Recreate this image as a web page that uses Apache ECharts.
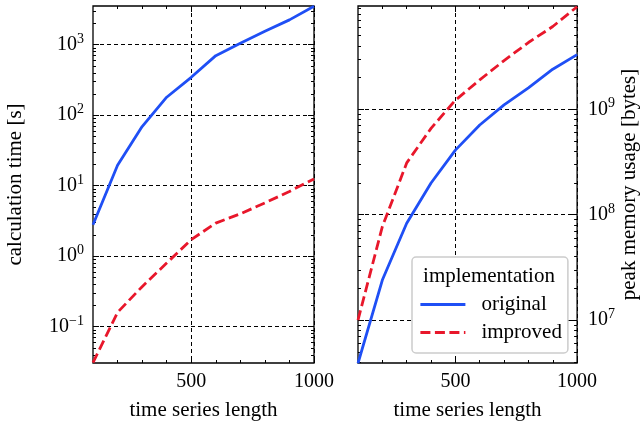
<!DOCTYPE html>
<html>
<head>
<meta charset="utf-8">
<script src="https://cdn.jsdelivr.net/npm/echarts@6/dist/echarts.min.js"></script>
<style>
html,body{margin:0;padding:0;background:#fff;}
#chart{width:641px;height:426px;}
</style>
</head>
<body>
<div id="chart"></div>
<script>
// ---- data ----
const xValues = [100, 200, 300, 400, 500, 600, 700, 800, 900, 1000];
const timeOriginal = [2.8, 19.5, 69, 180, 345, 700, 1050, 1550, 2250, 3500];
const timeImproved = [0.031, 0.16, 0.37, 0.8, 1.72, 2.95, 4.0, 5.7, 8.3, 12.5];
const memOriginal = [3.9e6, 2.4e7, 8.3e7, 2.0e8, 4.1e8, 7.1e8, 1.1e9, 1.6e9, 2.4e9, 3.3e9];
const memImproved = [1.0e7, 7.7e7, 3.1e8, 6.6e8, 1.22e9, 1.9e9, 2.9e9, 4.3e9, 6.1e9, 9.4e9];
const xTickLabels = [500, 1000];
const xMinorTicks = [200, 300, 400, 600, 700, 800, 900];
const timeTicks = [0.1, 1, 10, 100, 1000];
const memTicks = [1e7, 1e8, 1e9];
const seriesNames = ['original', 'improved'];
const legendTitle = 'implementation';
const xName = 'time series length';
const timeName = 'calculation time [s]';
const memName = 'peak memory usage [bytes]';

const timeRange = [0.0306, 3540];
const memRange = [3.92e6, 9.55e9];
const xRange = [100, 1000];

function minorLog(range) {
  const out = [];
  for (let k = Math.floor(Math.log10(range[0])); k <= Math.ceil(Math.log10(range[1])); k++) {
    for (let m = 2; m <= 9; m++) {
      const v = m * Math.pow(10, k);
      if (v >= range[0] && v <= range[1]) out.push(v);
    }
  }
  return out;
}

const FONT = '"Liberation Serif", "DejaVu Serif", serif';
const BLUE = '#1f4ff5';
const RED = '#e8172b';
const LW = 2.8;
const DASH = [10, 4.5];

function powLabel(v) {
  const e = Math.round(Math.log10(v));
  return '{b|10}{s|' + (e < 0 ? '\u2212' + (-e) : e) + '}';
}
const rich = {
  b: { fontSize: 20, lineHeight: 25, fontFamily: FONT, color: '#000' },
  s: { fontSize: 14, lineHeight: 14, fontFamily: FONT, color: '#000', verticalAlign: 'top' }
};

const gridLine = { show: true, lineStyle: { color: '#000', width: 1, type: [4, 3] } };

function xAxes(gi) {
  const base = { type: 'value', gridIndex: gi, min: xRange[0], max: xRange[1], axisLine: { show: false } };
  return [
    Object.assign({}, base, {
      position: 'bottom',
      axisTick: { show: true, inside: true, length: 6, customValues: xTickLabels, lineStyle: { color: '#000', width: 1 } },
      axisLabel: { show: true, customValues: xTickLabels, formatter: v => String(v), fontSize: 20, fontFamily: FONT, color: '#000', margin: 9 },
      splitLine: gridLine,
      name: xName, nameLocation: 'middle', nameGap: 37,
      nameTextStyle: { fontSize: 21, fontFamily: FONT, color: '#000' }
    }),
    Object.assign({}, base, {
      position: 'bottom',
      axisTick: { show: true, inside: true, length: 3, customValues: xMinorTicks, lineStyle: { color: '#000', width: 1 } },
      axisLabel: { show: false }, splitLine: { show: false }
    }),
    Object.assign({}, base, {
      position: 'top',
      axisTick: { show: true, inside: true, length: 6, customValues: xTickLabels, lineStyle: { color: '#000', width: 1 } },
      axisLabel: { show: false }, splitLine: { show: false }
    }),
    Object.assign({}, base, {
      position: 'top',
      axisTick: { show: true, inside: true, length: 3, customValues: xMinorTicks, lineStyle: { color: '#000', width: 1 } },
      axisLabel: { show: false }, splitLine: { show: false }
    })
  ];
}

function yAxes(gi, range, ticks, labelSide, name, gap, margin) {
  const minor = minorLog(range);
  const base = { type: 'log', logBase: 10, gridIndex: gi, min: range[0], max: range[1], axisLine: { show: false } };
  const other = labelSide === 'left' ? 'right' : 'left';
  return [
    Object.assign({}, base, {
      position: labelSide,
      axisTick: { show: true, inside: true, length: 6, customValues: ticks, lineStyle: { color: '#000', width: 1 } },
      axisLabel: { show: true, customValues: ticks, formatter: powLabel, rich: rich, margin: margin },
      splitLine: gridLine,
      name: name, nameLocation: 'middle', nameGap: gap, nameRotate: 90,
      nameTextStyle: { fontSize: 21, fontFamily: FONT, color: '#000' }
    }),
    Object.assign({}, base, {
      position: labelSide,
      axisTick: { show: true, inside: true, length: 3, customValues: minor, lineStyle: { color: '#000', width: 1 } },
      axisLabel: { show: false }, splitLine: { show: false }
    }),
    Object.assign({}, base, {
      position: other,
      axisTick: { show: true, inside: true, length: 6, customValues: ticks, lineStyle: { color: '#000', width: 1 } },
      axisLabel: { show: false }, splitLine: { show: false }
    }),
    Object.assign({}, base, {
      position: other,
      axisTick: { show: true, inside: true, length: 3, customValues: minor, lineStyle: { color: '#000', width: 1 } },
      axisLabel: { show: false }, splitLine: { show: false }
    })
  ];
}

function pairs(ys) { return xValues.map((x, i) => [x, ys[i]]); }

const lineCommon = { type: 'line', symbol: 'none', showSymbol: false, clip: true, animation: false, z: 5 };

const chart = echarts.init(document.getElementById('chart'), null, { renderer: 'canvas' });
chart.setOption({
  animation: false,
  backgroundColor: '#fff',
  grid: [
    { left: 93, top: 6, width: 221, height: 357, show: true, borderColor: '#000', borderWidth: 1.3, backgroundColor: 'transparent' },
    { left: 358, top: 6, width: 221, height: 358, show: true, borderColor: '#000', borderWidth: 1.3, backgroundColor: 'transparent' }
  ],
  xAxis: xAxes(0).concat(xAxes(1)),
  yAxis: yAxes(0, timeRange, timeTicks, 'left', timeName, 67, 9).concat(yAxes(1, memRange, memTicks, 'right', memName, 41, 11)),
  legend: {
    show: true,
    data: seriesNames,
    orient: 'vertical',
    left: 412, top: 257,
    itemWidth: 45, itemHeight: 14, itemGap: 7,
    padding: [37, 6, 10, 7],
    backgroundColor: '#fff',
    borderColor: '#cccccc', borderWidth: 1.5, borderRadius: 4,
    itemStyle: { opacity: 0 },
    lineStyle: { width: LW },
    textStyle: { fontSize: 21, fontFamily: FONT, color: '#000', padding: [0, 0, 0, 11] },
    z: 10
  },
  graphic: [{
    type: 'text', z: 100, zlevel: 0,
    x: 489, y: 276,
    style: { text: legendTitle, align: 'center', verticalAlign: 'middle', fontSize: 21, fontFamily: FONT, fill: '#000' }
  }],
  series: [
    Object.assign({}, lineCommon, { name: seriesNames[0], xAxisIndex: 0, yAxisIndex: 0, data: pairs(timeOriginal), lineStyle: { color: BLUE, width: LW }, itemStyle: { color: BLUE } }),
    Object.assign({}, lineCommon, { name: seriesNames[1], xAxisIndex: 0, yAxisIndex: 0, data: pairs(timeImproved), lineStyle: { color: RED, width: LW, type: DASH }, itemStyle: { color: RED } }),
    Object.assign({}, lineCommon, { name: seriesNames[0], xAxisIndex: 4, yAxisIndex: 4, data: pairs(memOriginal), lineStyle: { color: BLUE, width: LW }, itemStyle: { color: BLUE } }),
    Object.assign({}, lineCommon, { name: seriesNames[1], xAxisIndex: 4, yAxisIndex: 4, data: pairs(memImproved), lineStyle: { color: RED, width: LW, type: DASH }, itemStyle: { color: RED } })
  ]
});
</script>
</body>
</html>
